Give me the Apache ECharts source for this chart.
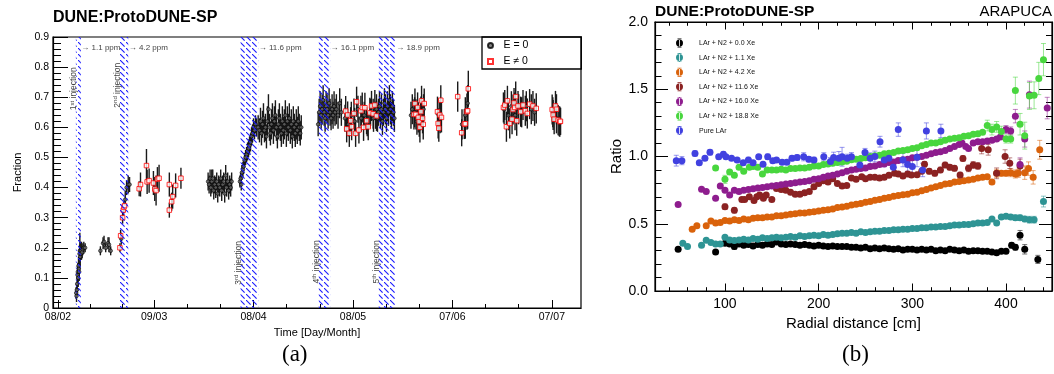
<!DOCTYPE html>
<html><head><meta charset="utf-8">
<script src="https://cdn.jsdelivr.net/npm/echarts@6/dist/echarts.min.js"></script>
<style>html,body{margin:0;padding:0;background:#fff}#c{width:1054px;height:374px}</style>
</head><body><div id="c"></div>
<script>
// ---------- Panel (a): light-yield fraction vs time (days since 08/02) ----------
const tickDays = [0, 29, 59, 89, 119, 149];
const tickLabels = ['08/02', '09/03', '08/04', '08/05', '07/06', '07/07'];
const minorDays = [9.7, 19.3, 39, 49, 69, 79, 99, 109, 129, 139];
const injStart = [5.4, 18.5, 55.1, 78.7, 96.8];
const injEnd = [6.9, 21.2, 60.4, 82.1, 101.9];
const ppmLabels = ['1.1 ppm', '4.2 ppm', '11.6 ppm', '16.1 ppm', '18.9 ppm'];
const injOrd = ['st', 'nd', 'rd', 'th', 'th'];
const injLabelY = [0.728, 0.74, 0.15, 0.153, 0.153];

// [day, fraction, error]
const eZero = [
 [5.5,0.05,0.02],[5.6,0.04,0.02],[5.7,0.06,0.02],[5.8,0.08,0.025],[5.9,0.11,0.03],[6.0,0.12,0.03],[6.1,0.10,0.03],[6.2,0.14,0.03],[6.3,0.13,0.03],[6.4,0.12,0.03],[6.5,0.18,0.03],[6.6,0.19,0.06],[6.7,0.17,0.03],[6.8,0.19,0.03],[6.9,0.18,0.02],[7.1,0.19,0.03],[7.3,0.185,0.02],[7.5,0.195,0.02],[7.8,0.20,0.02],[8.2,0.20,0.015],
 [12.8,0.19,0.015],[13.6,0.215,0.02],[13.9,0.22,0.02],[14.4,0.20,0.015],[15.1,0.215,0.02],[15.4,0.21,0.025],[15.9,0.19,0.015],
 [19.1,0.23,0.02],[20.3,0.36,0.03],[20.7,0.40,0.025],[21.2,0.41,0.03],[21.6,0.41,0.025],
 [45.3,0.42,0.03],[45.6,0.41,0.03],[45.9,0.43,0.03],[46.1,0.40,0.03],[46.4,0.42,0.04],[46.7,0.43,0.03],[47.0,0.39,0.03],[47.3,0.41,0.03],[47.6,0.40,0.035],[47.9,0.42,0.03],[48.2,0.38,0.03],[48.5,0.41,0.03],[48.8,0.40,0.03],[49.1,0.43,0.03],[49.4,0.39,0.035],[49.7,0.41,0.03],[50.0,0.42,0.03],[50.3,0.38,0.03],[50.6,0.44,0.035],[50.9,0.40,0.03],[51.2,0.42,0.03],[51.5,0.39,0.03],[51.8,0.41,0.03],[52.1,0.40,0.03],[52.4,0.42,0.03],
 [54.9,0.42,0.02],[55.1,0.43,0.02],[55.3,0.41,0.02],[55.5,0.45,0.025],[55.8,0.46,0.025],[56.0,0.47,0.025],[56.3,0.49,0.025],[56.6,0.50,0.025],[56.9,0.51,0.025],[57.2,0.52,0.03],[57.5,0.53,0.03],[57.8,0.54,0.03],[58.1,0.55,0.03],[58.4,0.57,0.03],[58.7,0.58,0.03],[59.0,0.60,0.03],[59.3,0.59,0.03],[59.6,0.61,0.03],[59.9,0.60,0.03],
 [60.4,0.60,0.04],[60.8,0.59,0.04],[61.1,0.62,0.045],[61.4,0.58,0.04],[61.7,0.61,0.045],[62.0,0.63,0.05],[62.3,0.59,0.04],[62.6,0.60,0.045],[62.9,0.57,0.04],[63.2,0.62,0.05],[63.5,0.66,0.05],[63.8,0.60,0.045],[64.1,0.58,0.04],[64.4,0.61,0.05],[64.7,0.63,0.05],[65.0,0.59,0.045],[65.3,0.62,0.05],[65.6,0.64,0.05],[65.9,0.60,0.045],[66.2,0.57,0.04],[66.5,0.61,0.05],[66.8,0.63,0.05],[67.1,0.60,0.045],[67.4,0.58,0.045],[67.7,0.62,0.05],[68.0,0.59,0.045],[68.3,0.61,0.05],[68.6,0.64,0.05],[68.9,0.58,0.045],[69.2,0.62,0.05],[69.5,0.60,0.045],[69.8,0.63,0.05],[70.1,0.59,0.045],[70.4,0.61,0.05],[70.7,0.57,0.04],[71.0,0.62,0.05],[71.3,0.60,0.045],[71.6,0.58,0.045],[71.9,0.61,0.05],[72.2,0.59,0.045],[72.5,0.62,0.05],[72.8,0.60,0.045],[73.1,0.58,0.04],[73.4,0.60,0.04],
 [78.5,0.61,0.04],[78.8,0.65,0.045],[79.1,0.67,0.05],[79.4,0.64,0.045],[79.7,0.66,0.05],[80.0,0.69,0.05],[80.3,0.65,0.045],[80.6,0.63,0.045],[80.9,0.67,0.05],[81.2,0.66,0.05],[81.5,0.64,0.045],[81.8,0.68,0.05],[82.1,0.65,0.045],[82.4,0.63,0.04],[82.7,0.66,0.05],[83.0,0.64,0.045],[83.3,0.67,0.05],[83.6,0.65,0.045],[84.0,0.66,0.05],[84.5,0.64,0.045],[85.0,0.68,0.05],[85.5,0.65,0.045],
 [86.6,0.63,0.045],[87.6,0.61,0.04],[88.5,0.64,0.045],[89.5,0.62,0.045],[90.5,0.66,0.045],[91.5,0.63,0.045],[92.4,0.64,0.045],[93.3,0.61,0.04],[94.3,0.65,0.045],[95.2,0.63,0.045],
 [95.8,0.64,0.045],[96.1,0.66,0.05],[96.4,0.63,0.045],[96.7,0.65,0.045],[97.0,0.67,0.05],[97.3,0.64,0.045],[97.6,0.66,0.05],[97.9,0.62,0.045],[98.2,0.65,0.045],[98.5,0.68,0.05],[98.8,0.66,0.05],[99.1,0.63,0.045],[99.4,0.67,0.05],[99.7,0.65,0.045],[100.0,0.69,0.05],[100.3,0.66,0.05],[100.6,0.64,0.045],[100.9,0.67,0.05],[101.2,0.65,0.045],[101.5,0.63,0.045],
 [106.5,0.64,0.045],[106.9,0.66,0.05],[107.6,0.65,0.05],[108.3,0.62,0.045],[109.4,0.64,0.05],[110.3,0.66,0.05],
 [114.6,0.645,0.05],[115.3,0.63,0.05],
 [121.9,0.61,0.05],[122.9,0.64,0.06],[123.6,0.68,0.06],
 [134.6,0.66,0.05],[135.9,0.64,0.05],[136.8,0.67,0.05],[137.9,0.64,0.05],[139.0,0.66,0.05],[139.9,0.65,0.05],[141.3,0.67,0.05],[142.8,0.66,0.05],[143.8,0.65,0.045],
 [149.3,0.65,0.05],[150.4,0.63,0.05],[151.2,0.62,0.05],[151.6,0.62,0.045]
];
const eNonZero = [
 [18.7,0.20,0.015],[18.9,0.24,0.02],[19.5,0.30,0.02],[19.7,0.325,0.02],[19.9,0.335,0.02],[20.1,0.34,0.02],
 [24.5,0.396,0.025],[24.9,0.41,0.04],[26.7,0.473,0.055],[26.9,0.419,0.04],[27.5,0.423,0.04],[28.8,0.415,0.04],[29.2,0.395,0.04],[29.6,0.39,0.05],[30.0,0.428,0.04],[30.5,0.431,0.045],[33.6,0.41,0.04],[33.6,0.325,0.025],[34.3,0.353,0.03],[34.6,0.37,0.04],[35.5,0.407,0.04],[37.1,0.431,0.035],
 [86.8,0.654,0.05],[87.1,0.595,0.045],[87.4,0.641,0.045],[87.9,0.58,0.045],[88.3,0.622,0.045],[88.6,0.602,0.045],[89.3,0.646,0.05],[89.8,0.58,0.045],[90.1,0.685,0.05],[90.8,0.591,0.045],[91.4,0.655,0.05],[91.8,0.666,0.05],[92.2,0.60,0.045],[92.6,0.665,0.05],[93.1,0.622,0.045],[93.6,0.602,0.045],[94.1,0.648,0.05],[94.6,0.671,0.05],[95.1,0.645,0.05],[95.6,0.674,0.05],[96.1,0.638,0.05],
 [107.4,0.643,0.05],[107.7,0.679,0.05],[108.0,0.643,0.05],[108.5,0.666,0.05],[108.7,0.633,0.05],[109.0,0.619,0.05],[109.2,0.60,0.05],[109.5,0.652,0.05],[109.7,0.688,0.05],[110.0,0.630,0.05],[110.2,0.61,0.05],[110.5,0.679,0.05],
 [114.5,0.652,0.05],[114.7,0.613,0.05],[114.9,0.597,0.045],[115.2,0.641,0.05],[115.5,0.69,0.05],[115.7,0.633,0.05],
 [120.6,0.702,0.05],[121.8,0.582,0.045],[122.6,0.611,0.05],[122.9,0.612,0.05],[123.4,0.652,0.06],[123.6,0.655,0.06],[123.8,0.728,0.06],
 [134.4,0.666,0.05],[134.8,0.674,0.05],[135.3,0.602,0.05],[135.6,0.688,0.05],[136.3,0.613,0.05],[137.0,0.627,0.05],[137.3,0.659,0.05],[137.6,0.681,0.05],[137.8,0.666,0.05],[138.1,0.702,0.05],[138.4,0.622,0.05],[138.8,0.671,0.05],[139.6,0.652,0.05],[140.3,0.674,0.05],[141.0,0.655,0.05],[141.6,0.646,0.05],[142.3,0.677,0.05],[143.3,0.671,0.05],[144.3,0.663,0.05],
 [149.1,0.659,0.05],[149.4,0.641,0.05],[149.7,0.627,0.05],[150.1,0.671,0.05],[150.4,0.66,0.05],[150.9,0.624,0.05],[151.4,0.619,0.05],[151.6,0.62,0.045]
];

// ---------- Panel (b): ratio vs radial distance ----------
const rTickMajor = [100, 200, 300, 400];
const rTickMinor = [40,60,80,120,140,160,180,220,240,260,280,320,340,360,380,420,440];
const seriesNames = ['LAr + N2 + 0.0 Xe','LAr + N2 + 1.1 Xe','LAr + N2 + 4.2 Xe','LAr + N2 + 11.6 Xe','LAr + N2 + 16.0 Xe','LAr + N2 + 18.8 Xe','Pure LAr'];
const seriesColors = ['#000000','#2e9494','#d9620b','#8b2222','#8e1d8e','#48d63e','#4141e0'];
// [cm, ratio, error]
const xe00 = [[50,.31,.01],[90,.29,.01],[100,.355,.01],[105,.35,.01],[110,.33,.02],[115,.35,.01],[120,.34,.01],[125,.345,.01],[130,.335,.01],[135,.345,.01],[140,.34,.01],[145,.35,.01],[150,.345,.01],[155,.365,.01],[160,.35,.01],[165,.345,.01],[170,.35,.01],[175,.345,.01],[180,.34,.01],[185,.345,.01],[190,.34,.01],[195,.335,.01],[200,.34,.01],[205,.335,.01],[210,.33,.01],[215,.335,.01],[220,.33,.01],[225,.33,.01],[230,.33,.01],[235,.325,.01],[240,.325,.01],[245,.32,.01],[250,.325,.01],[255,.315,.01],[260,.32,.01],[265,.315,.01],[270,.32,.01],[275,.315,.01],[280,.31,.01],[285,.315,.01],[290,.305,.01],[295,.31,.01],[300,.31,.01],[305,.305,.01],[310,.31,.01],[315,.305,.01],[320,.31,.01],[325,.3,.01],[330,.305,.01],[335,.3,.01],[340,.31,.01],[345,.305,.01],[350,.3,.01],[355,.305,.01],[360,.295,.01],[365,.3,.01],[370,.3,.01],[375,.295,.01],[380,.295,.01],[385,.29,.01],[390,.285,.01],[395,.295,.01],[400,.295,.01],[406,.34,.02],[410,.325,.02],[415,.415,.035],[420,.31,.035],[434,.235,.03]];
const xe11 = [[55,.355,.01],[60,.33,.01],[75,.34,.01],[80,.378,.01],[85,.36,.01],[90,.35,.01],[95,.35,.01],[100,.4,.01],[105,.38,.01],[110,.375,.01],[115,.38,.01],[120,.385,.01],[125,.38,.01],[130,.39,.01],[135,.385,.01],[140,.395,.01],[145,.39,.01],[150,.395,.01],[155,.4,.01],[160,.395,.01],[165,.4,.01],[170,.405,.01],[175,.4,.01],[180,.41,.01],[185,.405,.01],[190,.41,.01],[195,.415,.01],[200,.41,.01],[205,.42,.01],[210,.415,.01],[215,.42,.01],[220,.425,.01],[225,.43,.01],[230,.43,.01],[235,.435,.01],[240,.43,.01],[245,.44,.01],[250,.435,.01],[255,.44,.01],[260,.445,.01],[265,.445,.01],[270,.45,.01],[275,.45,.01],[280,.455,.01],[285,.455,.01],[290,.46,.01],[295,.46,.01],[300,.465,.01],[305,.465,.01],[310,.47,.01],[315,.47,.01],[320,.475,.01],[325,.475,.01],[330,.48,.01],[335,.48,.01],[340,.485,.01],[345,.49,.01],[350,.49,.01],[355,.495,.01],[360,.495,.01],[365,.5,.01],[370,.505,.01],[375,.505,.01],[380,.51,.01],[385,.535,.01],[390,.505,.01],[395,.55,.015],[400,.555,.015],[405,.55,.015],[410,.545,.02],[415,.545,.02],[420,.535,.02],[425,.53,.025],[430,.53,.025],[440,.665,.04]];
const xe42 = [[65,.46,.01],[70,.485,.01],[80,.485,.01],[85,.52,.01],[90,.505,.01],[95,.51,.01],[100,.525,.01],[105,.52,.01],[110,.53,.01],[115,.525,.01],[120,.535,.01],[125,.53,.01],[130,.54,.01],[135,.545,.01],[140,.545,.01],[145,.55,.01],[150,.55,.01],[155,.56,.01],[160,.56,.01],[165,.565,.01],[170,.57,.01],[175,.575,.01],[180,.58,.01],[185,.58,.01],[190,.585,.01],[195,.59,.01],[200,.595,.01],[205,.6,.01],[210,.605,.01],[215,.61,.01],[220,.62,.01],[225,.625,.01],[230,.63,.01],[235,.64,.01],[240,.645,.01],[245,.65,.01],[250,.66,.01],[255,.665,.01],[260,.675,.01],[265,.68,.01],[270,.69,.01],[275,.695,.01],[280,.705,.01],[285,.71,.01],[290,.715,.01],[295,.72,.01],[300,.73,.01],[305,.735,.01],[310,.745,.01],[315,.755,.01],[320,.765,.01],[325,.775,.01],[330,.785,.01],[335,.795,.01],[340,.8,.01],[345,.81,.01],[350,.815,.01],[355,.82,.01],[360,.825,.01],[365,.83,.01],[370,.84,.01],[375,.845,.01],[380,.85,.01],[385,.81,.015],[390,.875,.03],[395,.875,.02],[400,.875,.02],[405,.88,.03],[410,.87,.03],[413,.875,.03],[420,.88,.05],[424,.91,.05],[429,.845,.05],[436,1.05,.07]];
const xe116 = [[100,.627,.02],[110,.6,.02],[118,.68,.015],[121,.68,.015],[126,.7,.015],[131,.672,.015],[134,.7,.015],[137,.713,.015],[141,.69,.015],[144,.713,.015],[150,.68,.015],[155,.763,.015],[160,.755,.015],[165,.75,.015],[170,.735,.015],[175,.72,.015],[180,.72,.015],[185,.73,.015],[190,.74,.015],[195,.775,.015],[200,.8,.015],[205,.82,.015],[210,.81,.015],[215,.835,.015],[220,.8,.015],[225,.78,.015],[230,.785,.015],[235,.84,.015],[240,.83,.015],[246,.85,.015],[250,.835,.015],[255,.845,.015],[260,.845,.015],[265,.84,.015],[270,.845,.015],[275,.86,.015],[281,.875,.015],[285,.87,.015],[290,.855,.015],[295,.87,.015],[299,.862,.015],[305,.865,.015],[310,.89,.015],[313,.943,.02],[318,.89,.02],[324,.875,.02],[330,.9,.02],[335,.937,.02],[340,.92,.02],[345,.912,.02],[351,.862,.02],[354,.986,.02],[360,.912,.025],[365,.937,.025],[370,.93,.025],[374,1.06,.04],[381,1.05,.04],[390,.875,.04],[399,1.0,.05],[404,.95,.04],[415,.93,.05]];
const xe160 = [[50,.644,.01],[75,.757,.01],[80,.74,.01],[90,.69,.01],[95,.78,.01],[100,.75,.01],[105,.713,.01],[110,.75,.01],[115,.74,.01],[120,.75,.01],[125,.755,.01],[130,.76,.01],[135,.765,.01],[140,.77,.01],[145,.775,.01],[150,.78,.01],[155,.785,.01],[160,.79,.01],[165,.795,.01],[170,.8,.01],[175,.805,.01],[180,.81,.01],[185,.815,.01],[190,.82,.01],[195,.83,.01],[200,.835,.01],[205,.845,.01],[210,.855,.01],[215,.86,.01],[220,.87,.01],[225,.88,.01],[230,.89,.01],[235,.9,.01],[240,.905,.01],[245,.91,.01],[250,.915,.01],[255,.925,.01],[260,.93,.01],[265,.94,.01],[270,.945,.01],[275,.955,.01],[280,.96,.01],[285,.97,.01],[290,.975,.01],[295,.98,.01],[300,.99,.01],[305,.995,.01],[310,1.0,.01],[315,1.01,.01],[320,1.02,.01],[325,1.03,.01],[330,1.035,.01],[335,1.045,.01],[340,1.06,.01],[345,1.075,.01],[350,1.09,.01],[353,1.1,.01],[357,1.075,.01],[360,1.06,.01],[365,1.1,.015],[370,1.11,.015],[375,1.11,.015],[380,1.115,.015],[385,1.12,.015],[390,1.13,.015],[394,1.145,.015],[400,1.2,.03],[405,1.19,.03],[410,1.3,.05],[415,.94,.05],[420,1.13,.06],[425,1.46,.1],[444,1.36,.08]];
const xe188 = [[90,.915,.015],[100,.83,.03],[105,.885,.015],[110,.86,.01],[115,.92,.01],[120,.89,.01],[126,.92,.01],[130,.925,.01],[135,.92,.01],[140,.87,.01],[145,.9,.01],[150,.9,.01],[155,.9,.01],[160,.905,.01],[165,.9,.01],[170,.91,.01],[175,.91,.01],[180,.915,.01],[185,.915,.01],[190,.92,.01],[195,.93,.01],[200,.93,.01],[205,.94,.01],[210,.945,.01],[215,.95,.01],[220,.955,.01],[225,.96,.01],[230,.965,.01],[235,.975,.01],[240,.98,.01],[245,.985,.01],[250,.99,.01],[255,1.0,.01],[260,1.005,.01],[265,1.01,.01],[270,1.02,.01],[275,1.025,.01],[280,1.03,.01],[285,1.04,.01],[290,1.045,.01],[295,1.05,.01],[300,1.06,.01],[305,1.065,.01],[310,1.08,.01],[315,1.09,.01],[320,1.1,.01],[325,1.1,.01],[330,1.11,.01],[335,1.12,.01],[340,1.13,.01],[345,1.135,.01],[350,1.14,.01],[355,1.15,.01],[360,1.155,.01],[365,1.165,.01],[370,1.17,.01],[375,1.18,.01],[380,1.23,.04],[385,1.2,.04],[390,1.22,.04],[395,1.185,.04],[400,1.13,.03],[405,1.13,.03],[410,1.49,.1],[415,1.24,.08],[420,1.155,.1],[425,1.45,.1],[430,1.455,.1],[435,1.58,.12],[440,1.72,.12]];
const pureLAr = [[48,.969,.04],[54,.969,.03],[68,1.023,.02],[72.6,.954,.015],[78.6,.987,.015],[84,1.031,.02],[93.3,.998,.015],[98.3,1.016,.02],[101,.998,.015],[107,.987,.015],[113,.974,.015],[119.5,.954,.015],[125,.974,.02],[130,.954,.015],[136,.998,.015],[140.6,.942,.015],[145.6,.998,.02],[151,.969,.015],[155,.974,.015],[161,.957,.015],[166,.957,.015],[171.5,.987,.02],[177,.992,.02],[184,.998,.03],[189.5,.979,.02],[195,.974,.02],[205.5,.998,.03],[212.6,.962,.03],[216,.992,.04],[221.6,.987,.05],[225,.998,.07],[230.5,.987,.03],[235,.999,.03],[244,.937,.04],[249.5,1.03,.03],[255,.987,.04],[260,1.0,.04],[265.5,1.11,.04],[270,.974,.05],[275,.987,.04],[279.7,.92,.05],[285,1.2,.05],[290,.974,.05],[295,.94,.05],[300,.925,.06],[305,.994,.07],[311,.9,.05],[315,1.19,.06],[330.5,1.19,.05]];
const rightData = [xe00, xe11, xe42, xe116, xe160, xe188, pureLAr];

// ---------- rendering ----------
const FONT = 'Liberation Sans, Arial, Helvetica, sans-serif';
const hatch = document.createElement('canvas');
hatch.width = 6; hatch.height = 6;
(function(){ const c = hatch.getContext('2d'); c.strokeStyle = '#1a1aff'; c.lineWidth = 1.1;
  c.beginPath(); c.moveTo(0, 0); c.lineTo(4.6, 4.6); c.stroke(); })();

function alpha(hex, a){ const n = parseInt(hex.slice(1), 16);
  return 'rgba(' + (n >> 16) + ',' + ((n >> 8) & 255) + ',' + (n & 255) + ',' + a + ')'; }

function errSeries(name, data, xi, yi, color, lw, cap, z){
  return { type: 'custom', name: name, xAxisIndex: xi, yAxisIndex: yi, z: z, silent: true,
    data: data, encode: { x: 0, y: 1 },
    renderItem: function(p, api){
      const x = api.value(0), y = api.value(1), e = api.value(2);
      const a = api.coord([x, y - e]), b = api.coord([x, y + e]);
      const st = { stroke: color, lineWidth: lw };
      const ch = [{ type: 'line', shape: { x1: a[0], y1: a[1], x2: b[0], y2: b[1] }, style: st }];
      if (cap) {
        ch.push({ type: 'line', shape: { x1: a[0] - cap, y1: a[1], x2: a[0] + cap, y2: a[1] }, style: st });
        ch.push({ type: 'line', shape: { x1: b[0] - cap, y1: b[1], x2: b[0] + cap, y2: b[1] }, style: st });
      }
      return { type: 'group', children: ch };
    } };
}

const series = [];
series.push(errSeries('errE0', eZero, 0, 0, '#1a1a1a', 1.4, 0, 2));
series.push(errSeries('errE1', eNonZero, 0, 0, '#1a1a1a', 1.4, 0, 2));
series.push({ type: 'scatter', name: 'E = 0', xAxisIndex: 0, yAxisIndex: 0, z: 3,
  data: eZero.map(d => [d[0], d[1]]), symbol: 'circle', symbolSize: 3.6,
  itemStyle: { color: '#666', borderColor: '#000', borderWidth: 0.8 } });
series.push({ type: 'scatter', name: 'E \u2260 0', xAxisIndex: 0, yAxisIndex: 0, z: 3,
  data: eNonZero.map(d => [d[0], d[1]]), symbol: 'rect', symbolSize: 4.5,
  itemStyle: { color: '#fff', borderColor: '#ff0000', borderWidth: 1 } });
series.push({ type: 'custom', name: 'injections', xAxisIndex: 0, yAxisIndex: 0, z: 5, silent: true,
  data: injStart.map((s, i) => [s, injEnd[i], injLabelY[i], i]), encode: { x: [0, 1], y: 2 },
  renderItem: function(p, api){
    const s = api.value(0), e = api.value(1), ly = api.value(2), i = api.value(3);
    const tl = api.coord([s, 0.9]), br = api.coord([e, 0]);
    const yt = api.coord([s, 0.864])[1], yl = api.coord([s, ly])[1];
    return { type: 'group', children: [
      { type: 'rect', shape: { x: tl[0], y: tl[1], width: br[0] - tl[0], height: br[1] - tl[1] },
        style: { fill: { image: hatch, repeat: 'repeat' } } },
      { type: 'text', x: br[0] + 0.5, y: yt,
        style: { text: '\u2192 ' + ppmLabels[i], fill: '#444', fontSize: 8, fontFamily: FONT, align: 'left', verticalAlign: 'middle' } },
      { type: 'text', x: tl[0] - 2, y: yl, rotation: Math.PI / 2,
        style: { text: '{n|' + (i + 1) + '}{s|' + injOrd[i] + '}{n| injection}', align: 'center', verticalAlign: 'middle',
          rich: { n: { fontSize: 8.5, fill: '#444', fontFamily: FONT, lineHeight: 10 },
                  s: { fontSize: 6, fill: '#444', fontFamily: FONT, verticalAlign: 'top', lineHeight: 10 } } } }
    ] };
  } });

rightData.forEach((d, k) => {
  series.push(errSeries('err' + k, d, 2, 1, alpha(seriesColors[k], 0.55), 1, 2.5, 2));
});
rightData.forEach((d, k) => {
  series.push({ type: 'scatter', name: seriesNames[k], xAxisIndex: 2, yAxisIndex: 1, z: 3 + k * 0.01,
    data: d.map(p => [p[0], p[1]]), symbol: 'circle', symbolSize: 7,
    itemStyle: { color: seriesColors[k], opacity: 1 } });
});

const axBlack = { color: '#000', width: 1.2 };
const lblL = { fontSize: 10.5, color: '#000', fontFamily: FONT };
const lblR = { fontSize: 14, color: '#000', fontFamily: FONT };
const errIcon = 'path://M3.1,0H3.9V9H3.1Z M1.5,0H5.5V0.7H1.5Z M1.5,8.3H5.5V9H1.5Z M0,4.5A3.5,3.5,0,1,0,7,4.5A3.5,3.5,0,1,0,0,4.5Z';

const option = {
  animation: false,
  backgroundColor: '#fff',
  title: [
    { text: 'DUNE:ProtoDUNE-SP', left: 53, top: 10, padding: 0, textStyle: { fontSize: 16, fontWeight: 'bold', fontFamily: FONT, color: '#000' } },
    { text: 'DUNE:ProtoDUNE-SP', left: 655, top: 4, padding: 0, textStyle: { fontSize: 15.5, fontWeight: 'bold', fontFamily: FONT, color: '#000' } },
    { text: 'ARAPUCA', right: 2, top: 4, padding: 0, textStyle: { fontSize: 15, fontWeight: 'normal', fontFamily: FONT, color: '#000' } },
    { text: '(a)', left: 282, top: 343, padding: 0, textStyle: { fontSize: 23, fontWeight: 'normal', fontFamily: 'Liberation Serif, DejaVu Serif, serif', color: '#000' } },
    { text: '(b)', left: 842, top: 343, padding: 0, textStyle: { fontSize: 23, fontWeight: 'normal', fontFamily: 'Liberation Serif, DejaVu Serif, serif', color: '#000' } }
  ],
  legend: [
    { data: [{ name: 'E = 0', icon: 'circle' }, { name: 'E \u2260 0', icon: 'path://M0,0H1V1H0Z' }],
      left: 482, top: 37, orient: 'vertical', selectedMode: false,
      borderColor: '#000', borderWidth: 1.3, padding: [3, 53, 2, 5], itemWidth: 16, itemHeight: 5, itemGap: 5,
      textStyle: { fontSize: 10.5, color: '#000', fontFamily: FONT } },
    { data: seriesNames.map(n => ({ name: n, icon: errIcon })), left: 676, top: 38.5, orient: 'vertical', selectedMode: false,
      padding: 0, itemWidth: 29, itemHeight: 9, itemGap: 5.6,
      textStyle: { fontSize: 7, color: '#111', fontFamily: FONT } }
  ],
  grid: [
    { left: 53, top: 37, width: 528, height: 271, show: true, borderColor: '#000', borderWidth: 1.2, outerBoundsMode: 'none' },
    { left: 655, top: 22, width: 397, height: 269, show: true, borderColor: '#000', borderWidth: 1.2, outerBoundsMode: 'none' }
  ],
  xAxis: [
    { gridIndex: 0, type: 'value', min: -1.5, max: 157.8, position: 'bottom',
      axisLine: { onZero: false, lineStyle: axBlack },
      axisTick: { inside: true, length: 8, customValues: tickDays, lineStyle: { color: '#000' } },
      axisLabel: Object.assign({ customValues: tickDays, margin: 4, formatter: v => tickLabels[tickDays.indexOf(v)] || '' }, lblL),
      splitLine: { show: false },
      name: 'Time [Day/Month]', nameLocation: 'middle', nameGap: 13, nameTextStyle: { fontSize: 11, color: '#000', fontFamily: FONT } },
    { gridIndex: 0, type: 'value', min: -1.5, max: 157.8, position: 'bottom',
      axisLine: { show: false, onZero: false },
      axisTick: { inside: true, length: 4, customValues: minorDays, lineStyle: { color: '#000' } },
      axisLabel: { show: false }, splitLine: { show: false } },
    { gridIndex: 1, type: 'value', min: 25.3, max: 449.1, position: 'bottom',
      axisLine: { onZero: false, lineStyle: axBlack },
      axisTick: { inside: true, length: 7.5, customValues: rTickMajor, lineStyle: { color: '#000' } },
      axisLabel: Object.assign({ customValues: rTickMajor, margin: 6 }, lblR),
      splitLine: { show: false },
      name: 'Radial distance [cm]', nameLocation: 'middle', nameGap: 18, nameTextStyle: { fontSize: 15, color: '#000', fontFamily: FONT } },
    { gridIndex: 1, type: 'value', min: 25.3, max: 449.1, position: 'bottom',
      axisLine: { show: false, onZero: false },
      axisTick: { inside: true, length: 3.8, customValues: rTickMinor, lineStyle: { color: '#000' } },
      axisLabel: { show: false }, splitLine: { show: false } },
    { gridIndex: 1, type: 'value', min: 25.3, max: 449.1, position: 'top',
      axisLine: { onZero: false, lineStyle: axBlack },
      axisTick: { inside: true, length: 7.5, customValues: rTickMajor, lineStyle: { color: '#000' } },
      axisLabel: { show: false }, splitLine: { show: false } },
    { gridIndex: 1, type: 'value', min: 25.3, max: 449.1, position: 'top',
      axisLine: { show: false, onZero: false },
      axisTick: { inside: true, length: 3.8, customValues: rTickMinor, lineStyle: { color: '#000' } },
      axisLabel: { show: false }, splitLine: { show: false } }
  ],
  yAxis: [
    { gridIndex: 0, type: 'value', min: 0, max: 0.9, interval: 0.1,
      axisLine: { onZero: false, lineStyle: axBlack },
      axisTick: { inside: true, length: 15, lineStyle: { color: '#000' } },
      minorTick: { show: true, splitNumber: 5, length: 8, lineStyle: { color: '#000' } },
      axisLabel: Object.assign({ margin: 4, formatter: v => v === 0 ? '0' : v.toFixed(1) }, lblL),
      splitLine: { show: false },
      name: 'Fraction', nameLocation: 'middle', nameGap: 30, nameTextStyle: { fontSize: 11, color: '#000', fontFamily: FONT } },
    { gridIndex: 1, type: 'value', min: 0, max: 2, interval: 0.5, position: 'left',
      axisLine: { onZero: false, lineStyle: axBlack },
      axisTick: { inside: true, length: 13, lineStyle: { color: '#000' } },
      minorTick: { show: true, splitNumber: 5, length: 6.5, lineStyle: { color: '#000' } },
      axisLabel: Object.assign({ margin: 7, formatter: v => v.toFixed(1) }, lblR),
      splitLine: { show: false },
      name: 'Ratio', nameLocation: 'middle', nameGap: 28, nameTextStyle: { fontSize: 15, color: '#000', fontFamily: FONT } },
    { gridIndex: 1, type: 'value', min: 0, max: 2, interval: 0.5, position: 'right',
      axisLine: { onZero: false, lineStyle: axBlack },
      axisTick: { inside: true, length: 13, lineStyle: { color: '#000' } },
      minorTick: { show: true, splitNumber: 5, length: 6, lineStyle: { color: '#000' } },
      axisLabel: { show: false }, splitLine: { show: false } }
  ],
  series: series
};

const chart = echarts.init(document.getElementById('c'), null, { renderer: 'canvas' });
chart.setOption(option);
</script></body></html>
